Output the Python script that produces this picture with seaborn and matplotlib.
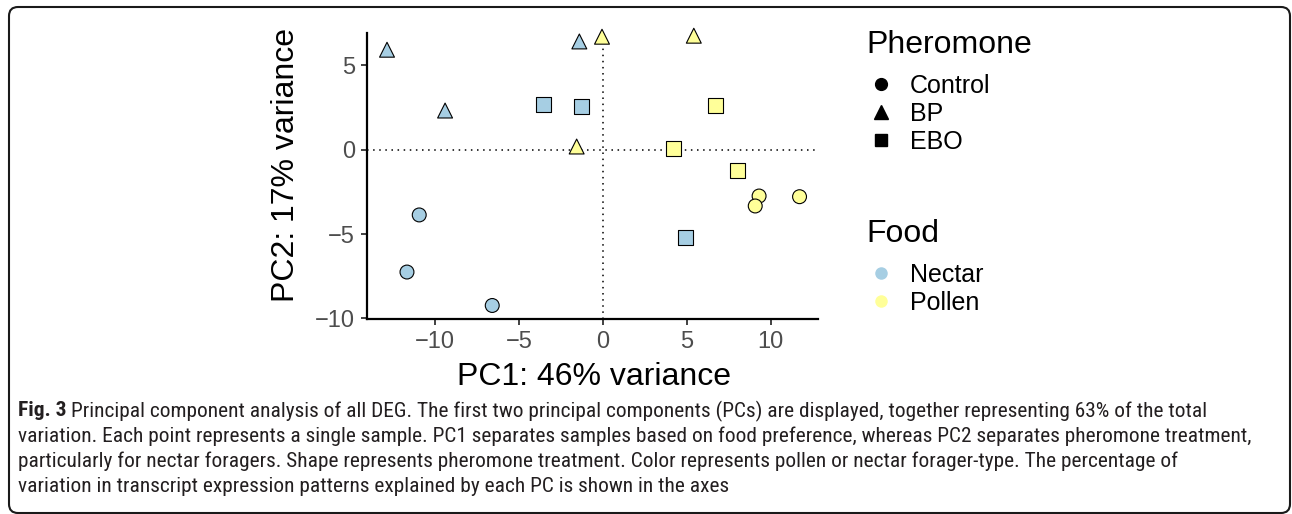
import matplotlib
matplotlib.use("Agg")
import matplotlib.pyplot as plt
from matplotlib import font_manager
from matplotlib.lines import Line2D
from matplotlib.patches import FancyBboxPatch
import seaborn as sns
import pandas as pd

# ---------------- data ----------------
pc1 = [-12.86, -1.40, -9.40, -0.05, 5.42, -1.56, -3.52, -1.26, 4.92,
       6.70, 4.19, 8.05, -10.94, -11.67, -6.59, 9.31, 9.08, 11.72]
pc2 = [5.91, 6.40, 2.31, 6.68, 6.74, 0.18, 2.65, 2.55, -5.18,
       2.59, 0.04, -1.26, -3.87, -7.25, -9.23, -2.75, -3.34, -2.79]
food = ["Nectar", "Nectar", "Nectar", "Pollen", "Pollen", "Pollen",
        "Nectar", "Nectar", "Nectar", "Pollen", "Pollen", "Pollen",
        "Nectar", "Nectar", "Nectar", "Pollen", "Pollen", "Pollen"]
pheromone = ["BP"] * 6 + ["EBO"] * 6 + ["Control"] * 6

pheromone_levels = ["Control", "BP", "EBO"]
food_levels = ["Nectar", "Pollen"]
x_ticks = [-10, -5, 0, 5, 10]
y_ticks = [-10, -5, 0, 5]
x_title = "PC1: 46% variance"
y_title = "PC2: 17% variance"
caption_bold = "Fig. 3"
caption_lines = [
    "Principal component analysis of all DEG. The first two principal components (PCs) are displayed, together representing 63% of the total",
    "variation. Each point represents a single sample. PC1 separates samples based on food preference, whereas PC2 separates pheromone treatment,",
    "particularly for nectar foragers. Shape represents pheromone treatment. Color represents pollen or nectar forager-type. The percentage of",
    "variation in transcript expression patterns explained by each PC is shown in the axes",
]

df = pd.DataFrame({"PC1": pc1, "PC2": pc2, "Food": food, "Pheromone": pheromone})

palette = {"Nectar": "#A6CEE3", "Pollen": "#FFFF99"}
markers = {"Control": "o", "BP": "^", "EBO": "s"}
sizes_m = {"Control": 100, "BP": 115, "EBO": 115}

# ---------------- style ----------------
sns.set_theme(style="white")
plt.rcParams["font.family"] = ["Liberation Sans", "DejaVu Sans"]
plt.rcParams["axes.unicode_minus"] = True
plt.rcParams["text.color"] = "black"

W, H = 1292, 514
fig = plt.figure(figsize=(W / 100, H / 100), dpi=100)
fig.patch.set_facecolor("white")

ax_l, ax_r, ax_t, ax_b = 366.7, 818.0, 33.0, 319.0
ax = fig.add_axes([ax_l / W, 1 - ax_b / H, (ax_r - ax_l) / W, (ax_b - ax_t) / H])
ax.set_facecolor("white")

# reference lines
ax.axhline(0, color="black", linestyle=(0, (1, 3)), linewidth=1.1, zorder=1)
ax.axvline(0, color="black", linestyle=(0, (1, 3)), linewidth=1.1, zorder=1)

for ph in pheromone_levels:
    sub = df[df["Pheromone"] == ph]
    sns.scatterplot(data=sub, x="PC1", y="PC2", hue="Food", palette=palette,
                    hue_order=food_levels, marker=markers[ph], s=sizes_m[ph],
                    edgecolor="black", linewidth=0.8, legend=False, ax=ax,
                    zorder=3, clip_on=False)

ax.set_xlim(-14.07, 12.82)
ax.set_ylim(-10.03, 6.9)
ax.set_xticks(x_ticks)
ax.set_yticks(y_ticks)
ax.set_xticklabels([f"{v}".replace("-", "\u2212") for v in x_ticks])
ax.set_yticklabels([f"{v}".replace("-", "\u2212") for v in y_ticks])

for s in ["top", "right"]:
    ax.spines[s].set_visible(False)
for s in ["left", "bottom"]:
    ax.spines[s].set_color("black")
    ax.spines[s].set_linewidth(1.6)

ax.tick_params(axis="both", which="major", length=4.5, width=1.3, color="#333333",
               labelsize=17, labelcolor="#4D4D4D", pad=4.0,
               bottom=True, left=True)

ax.set_xlabel(x_title, fontsize=23, color="black")
ax.set_ylabel(y_title, fontsize=23, color="black")
ax.xaxis.set_label_coords(0.504, (ax_b - 377) / (ax_b - ax_t))
ax.xaxis.label.set_va("center")
ax.yaxis.set_label_coords((286.5 - ax_l) / (ax_r - ax_l), (ax_b - 165) / (ax_b - ax_t))
ax.yaxis.label.set_va("center")

# ---------------- legends ----------------
ph_handles = [Line2D([], [], linestyle="none", marker=markers[p], color="black",
                     markersize={"Control": 8.5, "BP": 9.5, "EBO": 9}[p]) for p in pheromone_levels]
fd_handles = [Line2D([], [], linestyle="none", marker="o", color=palette[f],
                     markeredgewidth=0, markersize=9) for f in food_levels]

common = dict(loc="upper left", frameon=False, fontsize=18, title_fontsize=23,
              alignment="left", borderpad=0, borderaxespad=0,
              labelspacing=0.16, handletextpad=0.55, handlelength=1.2,
              labelcolor="black")
leg1 = fig.legend(ph_handles, pheromone_levels, title="Pheromone",
                  bbox_to_anchor=(866 / W, 1 - 30 / H), **common)
leg2 = fig.legend(fd_handles, food_levels, title="Food",
                  bbox_to_anchor=(866 / W, 1 - 219 / H), **common)
for lg in (leg1, leg2):
    lg._legend_box.sep = 10
    lg.get_title().set_color("black")

# ---------------- caption ----------------
names = {f.name for f in font_manager.fontManager.ttflist}
cap_family = "Liberation Sans"
for cand in ["Roboto Condensed", "Open Sans Condensed", "Liberation Sans Narrow",
             "DejaVu Sans Condensed"]:
    if cand in names:
        cap_family = cand
        break

renderer = fig.canvas.get_renderer()
cap_size = 14.0
x0 = 18
target = 1263 - x0
# fit widest line (line 2) to the target width
probe = fig.text(0, 0, caption_lines[1], fontsize=cap_size, family=cap_family)
wpx = probe.get_window_extent(renderer).width
probe.remove()
cap_size = cap_size * target / wpx

line_y = [411, 436, 461, 486]
bold = fig.text(x0 / W, 1 - line_y[0] / H, caption_bold, fontsize=cap_size,
                family=cap_family, weight="bold", va="center", ha="left", color="#231F20")
bw = bold.get_window_extent(renderer).width
sp = fig.text(0, 0, "a a", fontsize=cap_size, family=cap_family)
sw = sp.get_window_extent(renderer).width
sp.remove()
sp2 = fig.text(0, 0, "aa", fontsize=cap_size, family=cap_family)
sw = sw - sp2.get_window_extent(renderer).width
sp2.remove()
fig.text((x0 + bw + sw) / W, 1 - line_y[0] / H, caption_lines[0], fontsize=cap_size,
         family=cap_family, va="center", ha="left", color="#231F20")
for txt, yy in zip(caption_lines[1:], line_y[1:]):
    fig.text(x0 / W, 1 - yy / H, txt, fontsize=cap_size, family=cap_family,
             va="center", ha="left", color="#231F20")

# ---------------- border ----------------
box = FancyBboxPatch((9, 1), 1281, 506, boxstyle="round,pad=0,rounding_size=9",
                     transform=None, facecolor="none", edgecolor="#1a1a1a",
                     linewidth=1.5, zorder=10)
fig.patches.append(box)

fig.savefig("out.png", dpi=100, facecolor="white")
